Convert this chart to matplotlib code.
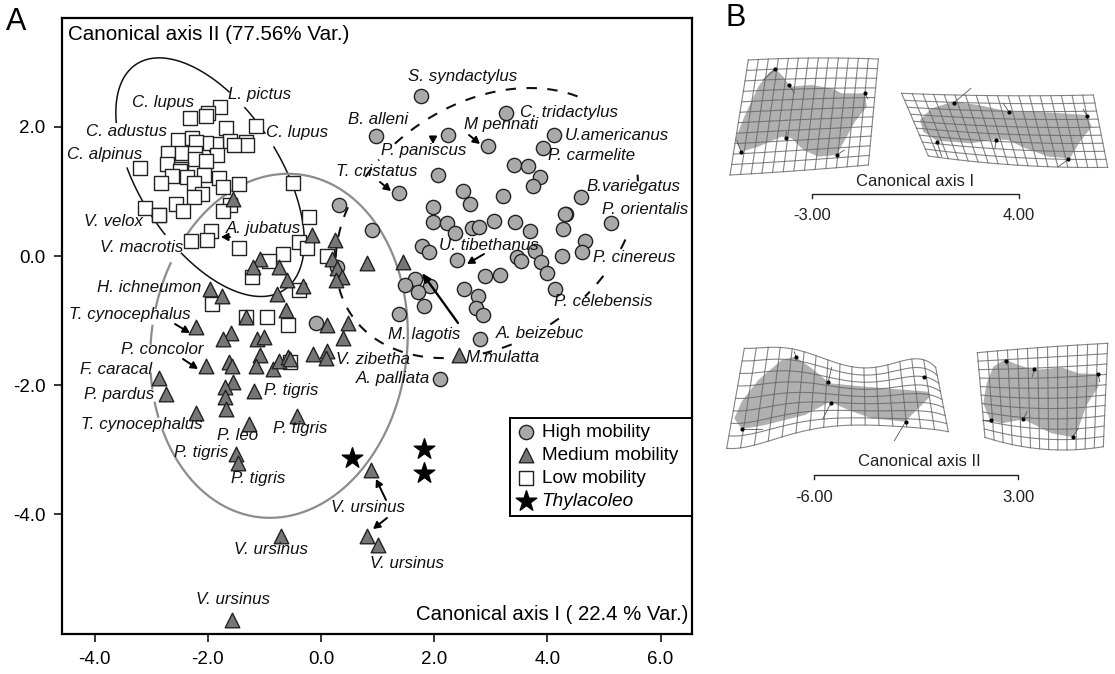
import numpy as np
import matplotlib
matplotlib.use("Agg")
import matplotlib.pyplot as plt
from matplotlib.patches import Polygon

plt.rcParams['font.family'] = ['Liberation Sans', 'DejaVu Sans']

# Panel A scores (canonical axis I, canonical axis II)
high_x = [1.76, 3.26, 0.97, 2.24, 2.95, 4.11, 3.92, 3.41, 3.66, 3.87, 3.75, 2.07, 1.38, 2.51, 2.64, 3.22,
          1.98, 1.98, 2.23, 2.36, 2.66, 2.79, 3.06, 3.43, 3.69, 4.27, 4.33, 4.31, 4.59, 5.12, 4.66, 4.61,
          4.26, 3.78, 3.47, 3.53, 3.89, 3.99, 4.13, 1.78, 1.91, 2.41, 2.90, 3.16, 2.53, 2.77, 2.73, 2.87,
          2.81, 1.66, 1.49, 1.93, 1.72, 1.82, 1.37, 2.10, 0.90, 0.32, 0.28, -0.08]
high_y = [2.48, 2.22, 1.86, 1.87, 1.71, 1.87, 1.67, 1.41, 1.40, 1.22, 1.08, 1.25, 0.98, 1.00, 0.80, 0.93,
          0.76, 0.53, 0.51, 0.35, 0.43, 0.45, 0.54, 0.53, 0.38, 0.42, 0.645, 0.65, 0.92, 0.51, 0.23, 0.06,
          0.00, 0.07, -0.01, -0.08, -0.10, -0.26, -0.51, 0.15, 0.06, -0.06, -0.31, -0.29, -0.51, -0.62, -0.81, -0.92,
          -1.28, -0.35, -0.45, -0.47, -0.55, -0.77, -0.90, -1.91, 0.41, 0.79, -0.17, -1.04]

low_x = [-1.79, -2.00, -2.03, -2.31, -1.14, -1.67, -2.52, -2.28, -1.60, -1.33, -1.30, -1.54, -1.86, -2.03, -2.21,
         -2.70, -2.46, -1.84, -2.23, -2.72, -2.23, -2.04, -2.48, -2.49, -3.19, -2.63, -2.36, -2.06, -1.80, -2.83,
         -2.24, -1.74, -1.45, -0.49, -2.11, -2.24, -2.56, -2.43, -3.11, -2.87, -2.86, -1.60, -1.74, -0.22, -1.94,
         -2.01, -2.30, -1.44, -0.38, -0.24, -0.68, -0.91, 0.10, -1.22, -0.38, -1.93, -1.33, -0.96, -0.58, -0.55]
low_y = [2.31, 2.21, 2.16, 2.13, 2.01, 1.98, 1.80, 1.83, 1.78, 1.76, 1.72, 1.72, 1.74, 1.75, 1.77,
         1.59, 1.60, 1.56, 1.59, 1.42, 1.50, 1.47, 1.34, 1.32, 1.36, 1.24, 1.23, 1.25, 1.21, 1.13,
         1.13, 1.07, 1.11, 1.13, 0.96, 0.91, 0.81, 0.69, 0.75, 0.64, 0.63, 0.79, 0.70, 0.61, 0.38,
         0.24, 0.23, 0.13, 0.22, 0.12, 0.03, -0.08, 0.00, -0.33, -0.53, -0.75, -0.95, -0.94, -1.07, -1.64]

medium_x = [-1.55, -0.16, 0.25, 0.19, 0.81, 0.29, 0.37, 0.27, -1.08, -1.20, -0.74, -0.60, -0.32, -0.77, -1.96, -1.75,
            -0.62, -1.33, 0.10, 0.47, -2.21, -1.59, -1.74, -1.13, -1.00, 0.38, -1.07, -1.62, -1.58, -2.04, -1.15,
            -0.85, -0.75, -0.58, -0.54, -0.14, 0.10, 0.09, -2.86, -2.74, -1.56, -1.70, -1.18, -1.69, -1.67, -2.20,
            -0.42, -1.27, -1.51, -1.47, 0.89, -0.71, 0.82, 1.01, -1.58, 1.45, 2.43]
medium_y = [0.89, 0.33, 0.25, -0.04, -0.11, -0.19, -0.32, -0.37, -0.05, -0.17, -0.17, -0.37, -0.47, -0.59, -0.51, -0.62,
            -0.84, -0.95, -1.07, -1.03, -1.10, -1.19, -1.28, -1.29, -1.26, -1.27, -1.53, -1.64, -1.71, -1.70, -1.70,
            -1.75, -1.63, -1.56, -1.60, -1.51, -1.47, -1.58, -1.89, -2.14, -1.95, -2.03, -2.09, -2.18, -2.37, -2.43,
            -2.47, -2.60, -3.07, -3.20, -3.32, -4.33, -4.33, -4.47, -5.63, -0.09, -1.53]

thylacoleo_x = [0.55, 1.82, 1.82]
thylacoleo_y = [-3.13, -2.99, -3.36]

x_ticks = [-4.0, -2.0, 0.0, 2.0, 4.0, 6.0]
y_ticks = [2.0, 0.0, -2.0, -4.0]

# Species labels (text, centre x and y in figure pixels)
species = [("S. syndactylus", 463, 77), ("C. tridactylus", 569, 112), ("B. alleni", 378, 120),
           ("M pennati", 501, 125), ("U.americanus", 617, 135), ("P. paniscus", 424, 151),
           ("P. carmelite", 592, 156), ("T. cristatus", 377, 172), ("B.variegatus", 633, 187),
           ("P. orientalis", 645, 209), ("U. tibethanus", 489, 246), ("P. cinereus", 634, 257),
           ("P. celebensis", 603, 302), ("M. lagotis", 424, 334), ("A. beizebuc", 540, 334),
           ("M.mulatta", 503, 358), ("V. zibetha", 373, 360), ("A. palliata", 393, 379),
           ("C. lupus", 163, 103), ("L. pictus", 260, 95), ("C. adustus", 127, 132),
           ("C. lupus", 297, 132), ("C. alpinus", 105, 155), ("V. velox", 113, 222),
           ("A. jubatus", 263, 228), ("V. macrotis", 142, 248), ("H. ichneumon", 149, 287),
           ("T. cynocephalus", 130, 315), ("P. concolor", 162, 350), ("F. caracal", 116, 369),
           ("P. pardus", 119, 394), ("P. tigris", 291, 391), ("T. cynocephalus", 142, 424),
           ("P. tigris", 300, 429), ("P. leo", 238, 436), ("P. tigris", 201, 453),
           ("P. tigris", 258, 478), ("V. ursinus", 368, 507), ("V. ursinus", 271, 550),
           ("V. ursinus", 407, 563), ("V. ursinus", 233, 599)]

# Arrows from label to point (figure pixels)
arrows = [((380, 182), (391, 191)), ((433, 137), (433, 144)), ((469, 135), (480, 144)),
          ((484, 254), (467, 264)), ((230, 237), (221, 237)), ((175, 324), (190, 333)),
          ((183, 359), (198, 369)), ((386, 500), (376, 479)), ((387, 518), (373, 529))]

# Panel B: grid edges, consensus outline, landmarks and their whisker ends
grid1_top = [(100, 30), (300, 24), (490, 27)]
grid1_bottom = [(45, 375), (250, 362), (460, 345)]
blob1 = [(180, 55), (205, 80), (225, 110), (290, 105), (350, 115), (380, 130), (450, 130), (455, 170), (420, 215),
         (395, 260), (365, 315), (310, 320), (265, 300), (230, 265), (200, 260), (130, 290), (80, 305), (60, 270),
         (90, 195), (130, 110), (160, 70)]
marks1 = [(180, 58), (222, 105), (450, 130), (212, 263), (365, 315), (78, 305)]
tips1 = [(145, 90), (238, 128), (458, 146), (214, 246), (388, 300), (66, 272)]

grid2_top = [(560, 130), (850, 137), (1135, 135)]
grid2_bottom = [(640, 318), (900, 345), (1178, 352)]
blob2 = [(715, 155), (790, 165), (880, 185), (960, 185), (1040, 190), (1115, 195), (1130, 230), (1095, 275),
         (1065, 325), (1000, 320), (920, 290), (880, 270), (840, 268), (770, 280), (665, 272), (625, 245),
         (615, 210), (650, 175)]
marks2 = [(717, 158), (881, 185), (1115, 197), (843, 270), (1060, 328), (666, 275)]
tips2 = [(768, 115), (865, 160), (1105, 178), (840, 295), (1030, 350), (680, 320)]

grid3_top = [(88, 55), (170, 52), (240, 58), (310, 80), (370, 100), (480, 112), (662, 112)]
grid3_bottom = [(35, 355), (120, 345), (220, 315), (330, 292), (420, 285), (560, 290), (700, 305)]
blob3 = [(240, 80), (290, 115), (345, 160), (450, 170), (640, 185), (645, 200), (600, 245), (570, 275), (470, 265),
         (400, 240), (345, 215), (270, 255), (150, 285), (80, 297), (58, 265), (80, 215), (130, 150), (200, 90)]
marks3 = [(243, 82), (340, 156), (628, 142), (347, 220), (572, 275), (82, 296)]
tips3 = [(238, 65), (350, 112), (628, 142), (323, 268), (538, 332), (142, 296)]

grid4_top = [(787, 68), (880, 60), (1178, 40)]
grid4_bottom = [(810, 322), (960, 355), (1165, 350)]
blob4 = [(870, 88), (910, 105), (960, 120), (1040, 112), (1090, 130), (1150, 132), (1150, 170), (1115, 225),
         (1090, 295), (1075, 322), (1010, 310), (960, 285), (925, 268), (860, 280), (825, 270), (805, 220),
         (815, 160), (835, 110)]
marks4 = [(872, 93), (958, 117), (1150, 133), (925, 267), (1073, 322), (828, 270)]
tips4 = [(876, 105), (952, 140), (1154, 155), (936, 245), (1090, 295), (800, 270)]

fig = plt.figure(figsize=(11.15, 6.74), dpi=100)

W, H = 1115.0, 674.0
ax = fig.add_axes([62 / W, 1 - 634 / H, (692 - 62) / W, (634 - 18) / H])
ax.set_xlim(-4.576, 6.555)
ax.set_ylim(-5.851, 3.684)

# Whole figure overlay for labels and panel B, in pixels
ov = fig.add_axes([0, 0, 1, 1], zorder=5)
ov.set_xlim(0, W)
ov.set_ylim(H, 0)
ov.axis('off')
ov.patch.set_alpha(0)


def ellipse_arc(centre, u, v, t1, t2):
    t = np.radians(np.linspace(t1, t2, 120))
    x = centre[0] + u[0] * np.cos(t) + v[0] * np.sin(t)
    y = centre[1] + u[1] * np.cos(t) + v[1] * np.sin(t)
    return x, y


# Low mobility ellipse (solid, broken by labels)
for t1, t2 in [(-69, 86), (93, 107), (117, 224), (247, 280)]:
    ax.plot(*ellipse_arc((-1.96, 1.22), (1.30, -1.75), (1.04, 0.59), t1, t2), color='#111111', lw=1.1, zorder=1)

# Medium mobility ellipse (gray)
for t1, t2 in [(-52, 238), (243, 248), (253, 258), (268, 274), (280, 296)]:
    ax.plot(*ellipse_arc((-0.742, -1.39), (0.265, 2.66), (2.26, -0.124), t1, t2), color='#8c8c8c', lw=1.6, zorder=1)

# High mobility ellipse (dashed)
for t1, t2 in [(180, 278), (290, 298), (306, 383), (69, 72), (97, 102), (113, 123), (135, 140), (154, 165)]:
    ax.plot(*ellipse_arc((2.93, 0.51), (0.76, 2.09), (2.56, 0.0), t1, t2), color='#111111', lw=1.5,
            linestyle=(0, (5, 5)), zorder=1)

h_low = ax.scatter(low_x, low_y, marker='s', s=95, facecolor='white', edgecolor='#222222', linewidth=1.0,
                   zorder=2, label='Low mobility')
h_high = ax.scatter(high_x, high_y, marker='o', s=105, facecolor='#a9a9a9', edgecolor='#222222', linewidth=1.0,
                    zorder=3, label='High mobility')
h_med = ax.scatter(medium_x, medium_y, marker='^', s=110, facecolor='#767676', edgecolor='#222222', linewidth=1.0,
                   zorder=4, label='Medium mobility')
h_thy = ax.scatter(thylacoleo_x, thylacoleo_y, marker='*', s=240, facecolor='black', edgecolor='black',
                   zorder=4, label='Thylacoleo')

ax.set_xticks(x_ticks)
ax.set_yticks(y_ticks)
ax.set_xticklabels(['%.1f' % v for v in x_ticks], fontsize=13.5)
ax.set_yticklabels(['%.1f' % v for v in y_ticks], fontsize=13.5)
ax.tick_params(length=6, width=1.1, pad=6)
for spine in ax.spines.values():
    spine.set_linewidth(1.6)

leg = ax.legend(handles=[h_high, h_med, h_low, h_thy], loc='lower left', bbox_to_anchor=(0.7111, 0.1915, 0.2889, 0),
                mode='expand', fontsize=13.7, frameon=True, fancybox=False, framealpha=1, edgecolor='black',
                borderaxespad=0, labelspacing=0.3, handlelength=1.06, handletextpad=0.3, borderpad=0.3)
leg.get_frame().set_linewidth(1.4)
leg.get_texts()[3].set_style('italic')

# Axis captions
ov.text(68, 34, "Canonical axis II (77.56% Var.)", fontsize=14.9, ha='left', va='center')
ov.text(688, 615, "Canonical axis I ( 22.4 % Var.)", fontsize=14.7, ha='right', va='center')
ov.text(6, 22, "A", fontsize=22, ha='left', va='center')
ov.text(725, 18, "B", fontsize=22, ha='left', va='center')

for name, px, py in species:
    ov.text(px, py, name, fontsize=12.2, style='italic', ha='center', va='center', color='#111111')

for start, end in arrows:
    ov.annotate("", xy=end, xytext=start,
                arrowprops=dict(arrowstyle='-|>,head_width=0.22,head_length=0.4', color='black', lw=1.4,
                                shrinkA=0, shrinkB=0))
ov.annotate("", xy=(422, 273), xytext=(458, 323),
            arrowprops=dict(arrowstyle='-|>,head_width=0.22,head_length=0.5', color='black', lw=1.7,
                            shrinkA=0, shrinkB=0))


def edge_curve(points, u):
    pts = np.array(points, dtype=float)
    s = (pts[:, 0] - pts[0, 0]) / (pts[-1, 0] - pts[0, 0])
    deg = min(len(pts) - 1, 5)
    return np.polyval(np.polyfit(s, pts[:, 0], deg), u), np.polyval(np.polyfit(s, pts[:, 1], deg), u)


def draw_shape(top, bottom, blob, marks, tips, ncol, nrow, ox, oy):
    # panel coordinates were read at 3x, ox/oy put them back on the figure
    conv = lambda p: (ox + np.asarray(p, dtype=float)[..., 0] / 3, oy + np.asarray(p, dtype=float)[..., 1] / 3)
    bx, by = conv(blob)
    ov.add_patch(Polygon(np.c_[bx, by], closed=True, facecolor='#b0b0b0', edgecolor='none', zorder=1,
                         joinstyle='round'))

    u = np.linspace(0, 1, 60)
    tx, ty = edge_curve(top, u)
    lx, ly = edge_curve(bottom, u)
    for r in np.linspace(0, 1, nrow + 1):
        ov.plot(ox + (tx + (lx - tx) * r) / 3, oy + (ty + (ly - ty) * r) / 3, color='#666666', lw=0.8,
                alpha=0.8, zorder=2)
    for c in np.linspace(0, 1, ncol + 1):
        i = c * (len(u) - 1)
        cx = np.interp(i, np.arange(len(u)), tx), np.interp(i, np.arange(len(u)), lx)
        cy = np.interp(i, np.arange(len(u)), ty), np.interp(i, np.arange(len(u)), ly)
        ov.plot([ox + cx[0] / 3, ox + cx[1] / 3], [oy + cy[0] / 3, oy + cy[1] / 3], color='#666666', lw=0.8,
                alpha=0.8, zorder=2)

    mx, my = conv(marks)
    qx, qy = conv(tips)
    for a, b, c, d in zip(mx, my, qx, qy):
        ov.plot([a, c], [b, d], color='#555555', lw=0.6, zorder=3)
    ov.scatter(mx, my, s=9, color='black', zorder=4, linewidths=0)


draw_shape(grid1_top, grid1_bottom, blob1, marks1, tips1, 13, 11, 715, 50)
draw_shape(grid2_top, grid2_bottom, blob2, marks2, tips2, 18, 9, 715, 50)
draw_shape(grid3_top, grid3_bottom, blob3, marks3, tips3, 16, 8, 715, 330)
draw_shape(grid4_top, grid4_bottom, blob4, marks4, tips4, 13, 10, 715, 330)

# Scale bars
for x1, x2, y, caption, cx, cy, lab1, lab2, ly in [(812, 1019, 194, "Canonical axis I", 915, 181, "-3.00", "4.00", 216),
                                                   (814, 1018, 475, "Canonical axis II", 919, 461, "-6.00", "3.00", 497)]:
    ov.plot([x1, x1, x2, x2], [y + 4, y, y, y + 4], color='#222222', lw=1.0)
    ov.text(cx, cy, caption, fontsize=12, ha='center', va='center', color='#222222')
    ov.text(x1, ly, lab1, fontsize=12, ha='center', va='center', color='#222222')
    ov.text(x2, ly, lab2, fontsize=12, ha='center', va='center', color='#222222')

fig.savefig("out.png", dpi=100)
